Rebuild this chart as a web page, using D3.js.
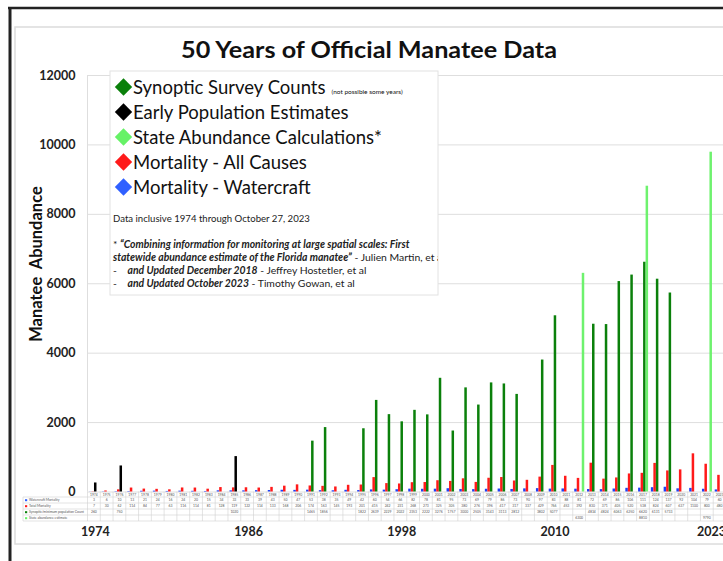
<!DOCTYPE html>
<html>
<head>
<meta charset="utf-8">
<script src="https://cdn.jsdelivr.net/npm/d3@7"></script>
<style>
  body { margin: 0; background: #fff; }
  svg { display: block; }
  text { font-family: Lato, "Open Sans", sans-serif; }
</style>
</head>
<body>
<svg id="chart" width="723" height="561"></svg>
<script>

// categories: one column per year
const years = [1974, 1975, 1976, 1977, 1978, 1979, 1980, 1981, 1982, 1983,
               1984, 1985, 1986, 1987, 1988, 1989, 1990, 1991, 1992, 1993,
               1994, 1995, 1996, 1997, 1998, 1999, 2000, 2001, 2002, 2003,
               2004, 2005, 2006, 2007, 2008, 2009, 2010, 2011, 2012, 2013,
               2014, 2015, 2016, 2017, 2018, 2019, 2020, 2021, 2022, 2023];

// mortality, one value per year
const watercraft = [3, 6, 10, 13, 21, 24, 16, 24, 20, 15,
                    34, 33, 33, 39, 43, 50, 47, 53, 38, 35,
                    49, 42, 60, 54, 66, 82, 78, 81, 95, 73,
                    69, 79, 86, 73, 90, 97, 83, 88, 81, 72,
                    69, 86, 106, 111, 124, 137, 92, 104, 79, 60];
const totalMortality = [7, 30, 62, 114, 84, 77, 63, 116, 114, 81,
                        128, 119, 122, 114, 133, 168, 206, 174, 163, 145,
                        193, 201, 415, 242, 231, 268, 273, 325, 305, 380,
                        276, 396, 417, 317, 337, 429, 766, 453, 392, 830,
                        371, 405, 520, 538, 824, 607, 637, 1100, 800, 480];

// population counts, only some years
const synopticYears  = [1991, 1992, 1995, 1996, 1997, 1998, 1999, 2000, 2001, 2002,
                        2003, 2004, 2005, 2006, 2007, 2009, 2010, 2013, 2014, 2015,
                        2016, 2017, 2018, 2019];
const synopticCounts = [1465, 1856, 1822, 2639, 2229, 2022, 2353, 2222, 3276, 1757,
                        3000, 2505, 3143, 3113, 2812, 3802, 5077, 4834, 4824, 6063,
                        6250, 6620, 6131, 5733];
const earlyYears     = [1974, 1976, 1985];
const earlyEstimates = [260, 750, 1020];
const abundanceYears = [2012, 2017, 2022];
const abundance      = [6300, 8810, 9790];

const yTicks = [0, 2000, 4000, 6000, 8000, 10000, 12000];
const axisYears = [1974, 1986, 1998, 2010, 2023];

const legendItems = [
  {label: "Synoptic Survey Counts", color: "#0b800b", note: "(not possible some years)"},
  {label: "Early Population Estimates", color: "#000000"},
  {label: "State Abundance Calculations*", color: "#66f266"},
  {label: "Mortality - All Causes", color: "#ff1a1a"},
  {label: "Mortality - Watercraft", color: "#3060ff"}
];

const tableRows = [
  {label: "Watercraft Mortality", color: "#3060ff"},
  {label: "Total Mortality", color: "#ff1a1a"},
  {label: "Synoptic/minimum population Count", color: "#0b800b"},
  {label: "State abundance estimate", color: "#66f266"}
];

// --------------------------------------------------
const svg = d3.select("#chart");

const colW = 12.77;
const x = d3.scaleBand().domain(years).range([87.5, 87.5 + years.length * colW]);
const slot = d3.scaleBand().domain(["watercraft", "total", "count", "abundance"]).range([-4.9, 5.1]);
const y = d3.scaleLinear().domain([0, 12000]).range([491.5, 75]);

const cx = yr => x(yr) + x.bandwidth() / 2;

// frame of the screenshot
svg.append("rect").attr("x", 15).attr("y", 27).attr("width", 730).attr("height", 517)
  .attr("fill", "none").attr("stroke", "#dcdcdc").attr("stroke-width", 1.5);
svg.append("line").attr("x1", 8).attr("x2", 723).attr("y1", 8).attr("y2", 8)
  .attr("stroke", "#222").attr("stroke-width", 2.5);
svg.append("line").attr("x1", 10).attr("x2", 10).attr("y1", 7).attr("y2", 561)
  .attr("stroke", "#222").attr("stroke-width", 3);

// title
svg.append("text")
  .attr("x", 369).attr("y", 58)
  .attr("text-anchor", "middle")
  .attr("font-size", 23).attr("font-weight", "bold")
  .attr("textLength", 376).attr("lengthAdjust", "spacingAndGlyphs")
  .attr("fill", "#111")
  .text("50 Years of Official Manatee Data");

// y axis with gridlines
const plotRight = 726;
const yAxis = d3.axisLeft(y).tickValues(yTicks)
  .tickSize(-(plotRight - 87.5)).tickPadding(12).tickFormat(d3.format("d"));

svg.append("g")
  .attr("class", "y axis")
  .attr("transform", "translate(87.5,0)")
  .call(yAxis)
  .call(g => g.select(".domain").remove())
  .call(g => g.selectAll(".tick line").attr("stroke", "#dedede"))
  .call(g => g.selectAll(".tick text")
    .attr("font-size", 12.5).attr("font-weight", "bold").attr("fill", "#222")
    .attr("font-family", "Lato, sans-serif"));

svg.append("line").attr("x1", 87.5).attr("x2", 87.5).attr("y1", 75).attr("y2", 491.5)
  .attr("stroke", "#dedede");

svg.append("text")
  .attr("transform", "translate(42,264) rotate(-90)")
  .attr("text-anchor", "middle")
  .attr("font-size", 16.5).attr("font-weight", "bold")
  .attr("fill", "#111")
  .style("white-space", "pre")
  .text("Manatee  Abundance");

// bars
const bars = svg.append("g").attr("class", "bars");

function drawBars(cls, yrs, vals, key, color) {
  bars.selectAll("." + cls)
    .data(yrs.map((yr, i) => ({yr: yr, v: vals[i]})))
    .enter().append("rect")
      .attr("class", cls)
      .attr("x", d => cx(d.yr) + slot(key))
      .attr("width", slot.bandwidth())
      .attr("y", d => y(d.v))
      .attr("height", d => y(0) - y(d.v))
      .attr("fill", color);
}

drawBars("wc", years, watercraft, "watercraft", "#2040f5");
drawBars("tot", years, totalMortality, "total", "#ff1a1a");
drawBars("syn", synopticYears, synopticCounts, "count", "#0b800b");
drawBars("early", earlyYears, earlyEstimates, "count", "#000000");
drawBars("abund", abundanceYears, abundance, "abundance", "#6ef26e");

// legend
const lg = svg.append("g").attr("class", "legend");
svg.append("clipPath").attr("id", "legclip")
  .append("rect").attr("x", 110).attr("y", 71).attr("width", 328).attr("height", 224);
lg.append("rect").attr("x", 110).attr("y", 71).attr("width", 328).attr("height", 224)
  .attr("fill", "#fff").attr("stroke", "#e2e2e2");

const rows = lg.selectAll(".item").data(legendItems).enter().append("g")
  .attr("class", "item")
  .attr("transform", (d, i) => "translate(0," + (93.5 + i * 25) + ")");
rows.append("path")
  .attr("d", d3.symbol(d3.symbolSquare, 150))
  .attr("transform", "translate(123.5,-6.5) rotate(45)")
  .attr("fill", d => d.color);
rows.append("text")
  .attr("x", 133).attr("font-size", 18.5).attr("fill", "#111")
  .text(d => d.label)
  .append("tspan").attr("font-size", 6.5).attr("dx", 6)
  .text(d => d.note || "");

const lgText = lg.append("g").attr("clip-path", "url(#legclip)");

lgText.append("text").attr("x", 113).attr("y", 221.5).attr("font-size", 9.6).attr("fill", "#222")
  .text("Data inclusive 1974 through October 27, 2023");

const notes = [
  [["* ", ""], ["\u201CCombining information for monitoring at large spatial scales: First", "bi"]],
  [["statewide abundance estimate of the Florida manatee\u201D", "bi"], [" - Julien Martin, et al", ""]],
  [["-    ", ""], ["and Updated December 2018", "bi"], [" - Jeffrey Hostetler, et al", ""]],
  [["-    ", ""], ["and Updated October 2023", "bi"], [" - Timothy Gowan, et al", ""]]
];
const noteY = [248, 261, 273.5, 286.5];
notes.forEach((parts, i) => {
  const t = lgText.append("text").attr("x", 113).attr("y", noteY[i])
    .attr("font-size", 10.4).attr("fill", "#222").style("white-space", "pre");
  parts.forEach(p => {
    const s = t.append("tspan").text(p[0]);
    if (p[1] == "bi") s.attr("font-weight", "bold").attr("font-style", "italic");
  });
});

// data table under the plot
const tb = svg.append("g").attr("class", "table");
const rowTop = 491.5, headH = 5.5, rowH = 6;
const tableBottom = rowTop + headH + rowH * tableRows.length;

tb.selectAll(".vline").data(years).enter().append("line")
  .attr("x1", d => x(d)).attr("x2", d => x(d))
  .attr("y1", rowTop).attr("y2", tableBottom)
  .attr("stroke", "#d0d0d0").attr("stroke-width", 0.6);
tb.append("line").attr("x1", 23).attr("x2", 23)
  .attr("y1", rowTop + headH).attr("y2", tableBottom)
  .attr("stroke", "#d0d0d0").attr("stroke-width", 0.6);

d3.range(tableRows.length + 1).forEach(i => {
  tb.append("line")
    .attr("x1", 23).attr("x2", plotRight)
    .attr("y1", rowTop + headH + i * rowH).attr("y2", rowTop + headH + i * rowH)
    .attr("stroke", "#d0d0d0").attr("stroke-width", 0.6);
});

tb.selectAll(".yr").data(years).enter().append("text")
  .attr("x", d => cx(d)).attr("y", rowTop + 4.3)
  .attr("text-anchor", "middle").attr("font-size", 3.4).attr("fill", "#555")
  .text(d => d);

const rl = tb.selectAll(".rowlabel").data(tableRows).enter().append("g")
  .attr("transform", (d, i) => "translate(0," + (rowTop + headH + i * rowH) + ")");
rl.append("rect").attr("x", 25).attr("y", 2.2).attr("width", 2.2).attr("height", 2)
  .attr("fill", d => d.color);
rl.append("text").attr("x", 29).attr("y", 4.3).attr("font-size", 3.4).attr("fill", "#555")
  .text(d => d.label);

function tableRow(i, yrs, vals) {
  tb.append("g").selectAll("text").data(yrs.map((yr, k) => ({yr: yr, v: vals[k]})))
    .enter().append("text")
      .attr("x", d => cx(d.yr)).attr("y", rowTop + headH + i * rowH + 4.3)
      .attr("text-anchor", "middle").attr("font-size", 3.4).attr("fill", "#555")
      .text(d => d.v);
}
tableRow(0, years, watercraft);
tableRow(1, years, totalMortality);
tableRow(2, earlyYears, earlyEstimates);
tableRow(2, synopticYears, synopticCounts);
tableRow(3, abundanceYears, abundance);

// year labels below the table
const nLab = axisYears.length;
svg.selectAll(".ylab").data(axisYears).enter().append("text")
  .attr("x", (d, i) => i == nLab - 1 ? x(d) + x.bandwidth() : cx(d) + 1.5)
  .attr("y", 535.5)
  .attr("text-anchor", (d, i) => i == nLab - 1 ? "end" : "middle")
  .attr("font-size", 12.5).attr("font-weight", "bold").attr("fill", "#222")
  .text(d => d);

</script>
</body>
</html>
